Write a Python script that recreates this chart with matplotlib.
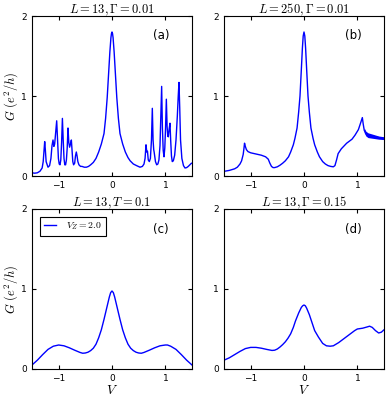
import matplotlib
matplotlib.use("Agg")
import matplotlib.pyplot as plt

plt.rcParams['mathtext.fontset'] = 'cm'
plt.rcParams['font.family'] = ['DejaVu Sans']

# Panel (a): L=13, Gamma=0.01
a_x = [-1.5, -1.45, -1.40, -1.35, -1.31, -1.29, -1.275, -1.262, -1.25, -1.235, -1.2, -1.17,
       -1.145, -1.125, -1.106, -1.09, -1.075, -1.055, -1.037, -1.02, -1.005, -0.99, -0.975,
       -0.96, -0.945, -0.93, -0.915, -0.9, -0.885, -0.87, -0.855, -0.84, -0.825, -0.81,
       -0.795, -0.778, -0.762, -0.748, -0.735, -0.72, -0.70, -0.685, -0.669, -0.655, -0.64,
       -0.62, -0.59, -0.5625, -0.52, -0.48, -0.44, -0.40, -0.35, -0.30, -0.25, -0.20, -0.15,
       -0.12, -0.09, -0.06, -0.04, -0.02, -0.01, 0.0, 0.01, 0.02, 0.04, 0.06, 0.09, 0.12,
       0.15, 0.20, 0.25, 0.30, 0.34, 0.40, 0.46, 0.525, 0.57, 0.60, 0.62, 0.6375, 0.652,
       0.665, 0.68, 0.70, 0.72, 0.74, 0.756, 0.77, 0.782, 0.79, 0.80, 0.815, 0.838, 0.86,
       0.88, 0.90, 0.915, 0.931, 0.945, 0.96, 0.975, 0.99, 1.005, 1.019, 1.033, 1.045,
       1.056, 1.07, 1.087, 1.10, 1.115, 1.13, 1.15, 1.175, 1.20, 1.225, 1.242, 1.256, 1.27,
       1.285, 1.31, 1.34, 1.369, 1.40, 1.43, 1.46, 1.49, 1.5]
a_y = [0.04, 0.035, 0.04, 0.06, 0.10, 0.18, 0.32, 0.43, 0.33, 0.18, 0.11, 0.13,
       0.22, 0.38, 0.45, 0.37, 0.40, 0.55, 0.69, 0.45, 0.22, 0.15, 0.14,
       0.20, 0.42, 0.72, 0.45, 0.22, 0.14, 0.14, 0.20, 0.35, 0.60, 0.42,
       0.36, 0.40, 0.45, 0.30, 0.18, 0.14, 0.16, 0.25, 0.30, 0.25, 0.18,
       0.14, 0.12, 0.12, 0.11, 0.11, 0.12, 0.14, 0.17, 0.22, 0.30, 0.40, 0.53,
       0.72, 0.98, 1.32, 1.55, 1.73, 1.78, 1.80, 1.78, 1.73, 1.55, 1.32, 0.98, 0.72,
       0.53, 0.40, 0.30, 0.23, 0.19, 0.15, 0.13, 0.11, 0.12, 0.15, 0.22, 0.39, 0.30,
       0.31, 0.20, 0.18, 0.22, 0.45, 0.846, 0.45, 0.33, 0.30, 0.25, 0.18, 0.14, 0.15,
       0.20, 0.38, 0.75, 1.12, 0.60, 0.32, 0.24, 0.35, 0.62, 0.96, 0.62, 0.50,
       0.49, 0.58, 0.66, 0.45, 0.25, 0.18, 0.19, 0.26, 0.45, 0.75, 1.00, 1.17, 0.85,
       0.45, 0.22, 0.13, 0.10, 0.105, 0.12, 0.14, 0.16, 0.16]

# Panel (b): L=250, Gamma=0.01
b_x = [-1.5, -1.4, -1.3, -1.25, -1.2, -1.17, -1.14, -1.125, -1.115, -1.10, -1.08, -1.05,
       -1.0, -0.9, -0.8, -0.72, -0.67, -0.64, -0.61, -0.58, -0.55, -0.5, -0.45, -0.4,
       -0.35, -0.29, -0.25, -0.2, -0.17, -0.13, -0.1, -0.075, -0.05, -0.03, -0.015, 0.0,
       0.015, 0.03, 0.05, 0.075, 0.1, 0.13, 0.17, 0.2, 0.25, 0.29, 0.35, 0.4, 0.45, 0.5,
       0.55, 0.58, 0.61, 0.64, 0.7, 0.8, 0.9, 0.956, 1.02, 1.06, 1.094, 1.11, 1.13, 1.16,
       1.2, 1.3, 1.4, 1.5]
b_y = [0.058, 0.07, 0.09, 0.11, 0.15, 0.19, 0.27, 0.35, 0.41, 0.37, 0.33, 0.305,
       0.29, 0.275, 0.26, 0.24, 0.21, 0.16, 0.12, 0.105, 0.105, 0.115, 0.135, 0.16,
       0.19, 0.24, 0.30, 0.39, 0.47, 0.60, 0.80, 1.0, 1.33, 1.60, 1.75, 1.80,
       1.75, 1.60, 1.33, 1.0, 0.80, 0.60, 0.47, 0.39, 0.30, 0.24, 0.18, 0.15, 0.13, 0.12,
       0.115, 0.13, 0.20, 0.28, 0.34, 0.41, 0.46, 0.51, 0.58, 0.66, 0.73, 0.65, 0.57, 0.53,
       0.51, 0.495, 0.48, 0.47]
# oscillation band in (b)
band_x = [1.13, 1.16, 1.2, 1.3, 1.4, 1.5]
band_lo = [0.54, 0.50, 0.48, 0.47, 0.46, 0.455]
band_hi = [0.60, 0.56, 0.54, 0.52, 0.50, 0.49]

# Panel (c): L=13, T=0.1
c_x = [-1.5, -1.4, -1.3, -1.2, -1.1, -1.0, -0.9, -0.8, -0.7, -0.6, -0.55, -0.5, -0.45,
       -0.4, -0.35, -0.3, -0.25, -0.2, -0.15, -0.1, -0.05, -0.025, 0.0, 0.025, 0.05, 0.1,
       0.15, 0.2, 0.25, 0.3, 0.35, 0.4, 0.45, 0.5, 0.55, 0.6, 0.7, 0.8, 0.9, 1.0, 1.04,
       1.1, 1.2, 1.3, 1.4, 1.5]
c_y = [0.05, 0.11, 0.18, 0.245, 0.285, 0.30, 0.29, 0.265, 0.235, 0.207, 0.197, 0.20, 0.21,
       0.23, 0.26, 0.31, 0.39, 0.49, 0.62, 0.76, 0.90, 0.955, 0.975, 0.955, 0.90, 0.76,
       0.62, 0.49, 0.39, 0.31, 0.26, 0.23, 0.21, 0.20, 0.197, 0.207, 0.235, 0.265, 0.29,
       0.30, 0.30, 0.285, 0.245, 0.18, 0.11, 0.05]

# Panel (d): L=13, Gamma=0.15
d_x = [-1.5, -1.4, -1.3, -1.2, -1.1, -1.0, -0.9, -0.8, -0.7, -0.6, -0.55, -0.5, -0.45,
       -0.4, -0.35, -0.3, -0.25, -0.2, -0.16, -0.1, -0.05, -0.025, 0.0, 0.025, 0.05, 0.1,
       0.15, 0.2, 0.27, 0.35, 0.42, 0.49, 0.55, 0.65, 0.75, 0.85, 0.95, 1.0, 1.1, 1.18,
       1.23, 1.28, 1.34, 1.4, 1.45, 1.5]
d_y = [0.11, 0.14, 0.18, 0.22, 0.255, 0.27, 0.27, 0.26, 0.245, 0.232, 0.235, 0.25, 0.275,
       0.305, 0.34, 0.385, 0.44, 0.52, 0.60, 0.70, 0.77, 0.79, 0.80, 0.79, 0.76, 0.68,
       0.58, 0.48, 0.40, 0.32, 0.29, 0.285, 0.29, 0.33, 0.38, 0.43, 0.48, 0.50, 0.51,
       0.525, 0.535, 0.52, 0.48, 0.45, 0.46, 0.49]

titles = [r'$L=13,\Gamma=0.01$', r'$L=250,\Gamma=0.01$', r'$L=13,T=0.1$', r'$L=13,\Gamma=0.15$']
tags = ['(a)', '(b)', '(c)', '(d)']
xticks = [-1, 0, 1]
yticks = [0, 1, 2]
legend_label = r'$V_Z=2.0$'

fig = plt.figure(figsize=(3.9, 3.99), dpi=100)
W, H = 390.0, 399.0
boxes = [(32, 16), (224, 16), (32, 209), (224, 209)]
axes = []
for (l, t) in boxes:
    ax = fig.add_axes([l / W, 1 - (t + 160) / H, 160 / W, 160 / H])
    axes.append(ax)

axes[0].plot(a_x, a_y, color='blue', lw=1.0)
axes[1].plot(b_x, b_y, color='blue', lw=1.0)
axes[1].fill_between(band_x, band_lo, band_hi, color='blue', lw=0)
axes[2].plot(c_x, c_y, color='blue', lw=1.0, label=legend_label)
axes[3].plot(d_x, d_y, color='blue', lw=1.0)

for i, ax in enumerate(axes):
    ax.set_xlim(-1.5, 1.5)
    ax.set_ylim(0, 2)
    ax.set_xticks(xticks)
    ax.set_yticks(yticks)
    ax.tick_params(direction='in', top=True, right=True, labelsize=6.5, length=3, pad=3.5)
    ax.set_title(titles[i], fontsize=9, pad=2)
    ax.text(0.806, 0.875, tags[i], transform=ax.transAxes, fontsize=8.5,
            ha='center', va='center')
    for s in ax.spines.values():
        s.set_linewidth(0.8)

axes[0].set_ylabel(r'$G\ (e^2/h)$', fontsize=9, labelpad=1)
axes[2].set_ylabel(r'$G\ (e^2/h)$', fontsize=9, labelpad=1)
axes[2].set_xlabel(r'$V$', fontsize=9.5, labelpad=1)
axes[3].set_xlabel(r'$V$', fontsize=9.5, labelpad=1)

leg = axes[2].legend(loc='upper left', fontsize=7, borderaxespad=0.8, handlelength=1.3,
                     handletextpad=1.0, borderpad=0.4, fancybox=False, framealpha=1,
                     edgecolor='black')
leg.get_frame().set_linewidth(0.8)

fig.savefig('out.png', dpi=100)
